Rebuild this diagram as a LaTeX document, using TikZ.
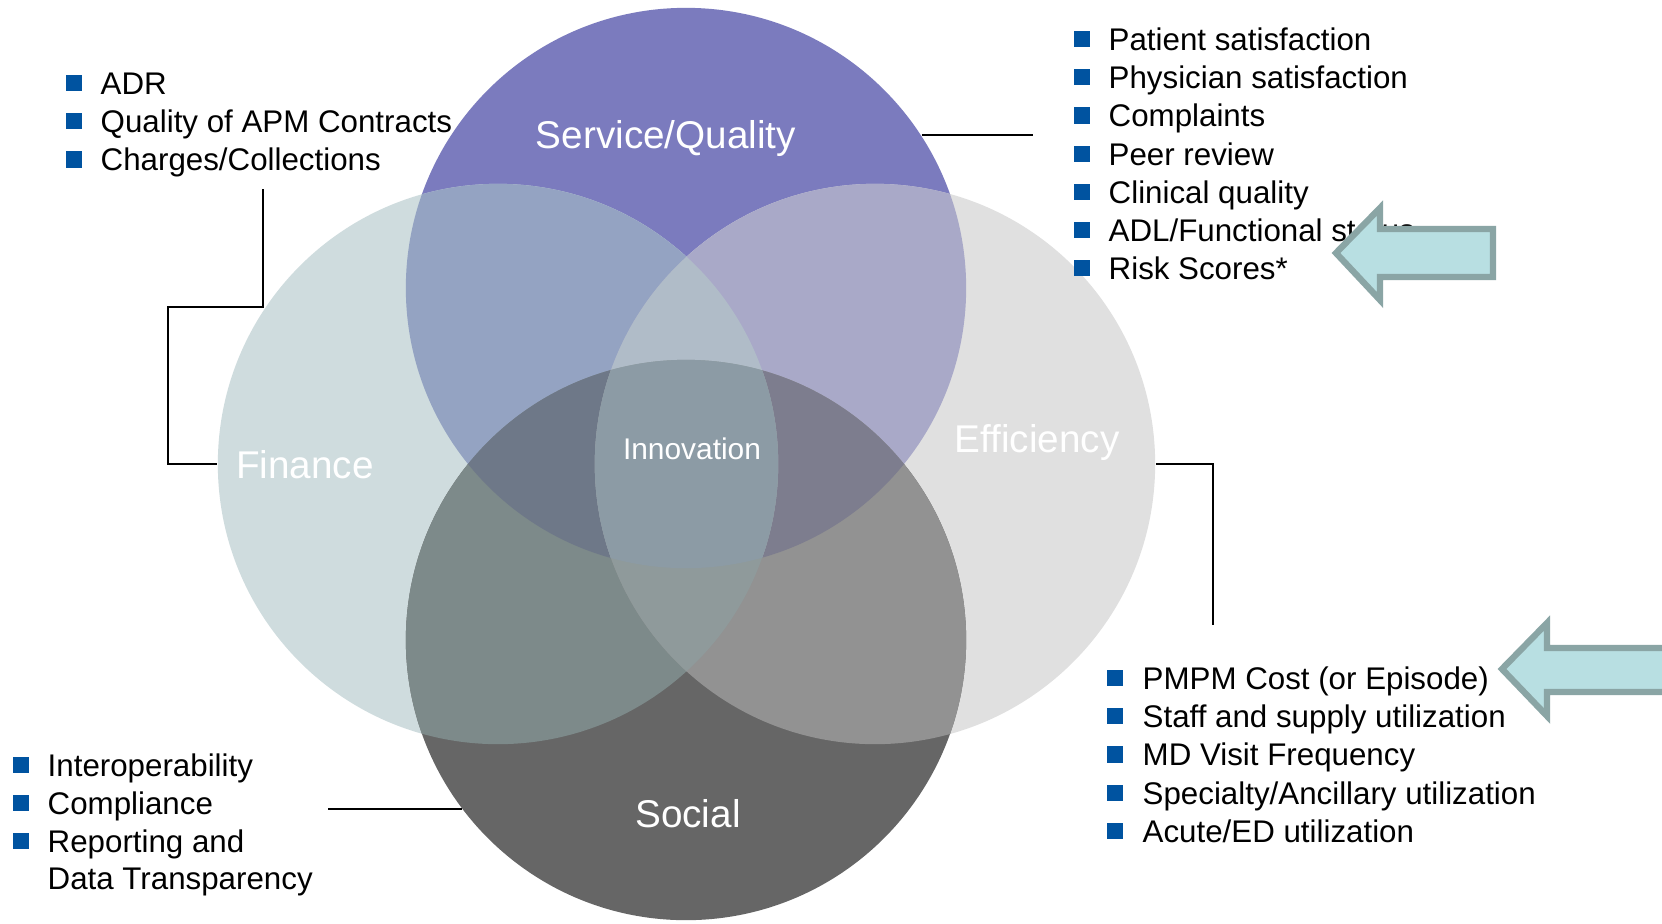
\documentclass[tikz,border=0pt]{standalone}
\usepackage{fontspec}
\setmainfont{Liberation Sans}
\definecolor{sqcol}{HTML}{7B7BBE}
\definecolor{fincol}{HTML}{CFDCDE}
\definecolor{effcol}{HTML}{E0E0E0}
\definecolor{soccol}{HTML}{666666}
\definecolor{sqfin}{HTML}{94A3C2}
\definecolor{sqeff}{HTML}{A9A9C8}
\definecolor{finsoc}{HTML}{7D8A8A}
\definecolor{effsoc}{HTML}{929292}
\definecolor{sqfinsoc}{HTML}{6E7888}
\definecolor{sqeffsoc}{HTML}{7D7D8E}
\definecolor{sqfineff}{HTML}{B0BCC8}
\definecolor{fineffsoc}{HTML}{8F9A9B}
\definecolor{innocol}{HTML}{8C9BA5}
\definecolor{bulblue}{HTML}{0053A0}
\definecolor{arrfill}{HTML}{B8DFE2}
\definecolor{arredge}{HTML}{8AA5A5}
\tikzset{
  venn/.style={circle, minimum size=5.6cm, inner sep=0pt},
  bigtxt/.style={text=white, inner sep=0pt, font=\fontsize{11}{13}\selectfont},
  itemtxt/.style={anchor=west, inner sep=0pt, text height=6.5pt, text depth=0pt,
    font=\fontsize{8.9}{11}\selectfont},
  bul/.style={fill=bulblue, minimum size=4.6pt, inner sep=0pt},
  link/.style={line width=0.6pt},
  blockarrow/.style={fill=arrfill, draw=arredge, line width=1.8pt, line join=miter}
}
\def\rad{2.8cm}
\begin{document}
\begin{tikzpicture}[x=0.01cm, y=-0.01cm]
  \clip (0,0) rectangle (1662,923);
  \fill[white] (0,0) rectangle (1662,923);
  % the four circles
  \node[venn, fill=sqcol] (sq) at (686,288) {};
  \node[venn, fill=fincol] (fin) at (498,464) {};
  \node[venn, fill=effcol] (eff) at (875,464) {};
  \node[venn, fill=soccol] (soc) at (686,640) {};
  % overlaps of two
  \begin{scope}
    \clip (sq.center) circle (\rad);
    \fill[sqfin] (fin.center) circle (\rad);
  \end{scope}
  \begin{scope}
    \clip (sq.center) circle (\rad);
    \fill[sqeff] (eff.center) circle (\rad);
  \end{scope}
  \begin{scope}
    \clip (soc.center) circle (\rad);
    \fill[finsoc] (fin.center) circle (\rad);
  \end{scope}
  \begin{scope}
    \clip (soc.center) circle (\rad);
    \fill[effsoc] (eff.center) circle (\rad);
  \end{scope}
  % overlaps of three
  \begin{scope}
    \clip (sq.center) circle (\rad);
    \clip (fin.center) circle (\rad);
    \fill[sqfinsoc] (soc.center) circle (\rad);
  \end{scope}
  \begin{scope}
    \clip (sq.center) circle (\rad);
    \clip (eff.center) circle (\rad);
    \fill[sqeffsoc] (soc.center) circle (\rad);
  \end{scope}
  \begin{scope}
    \clip (fin.center) circle (\rad);
    \clip (eff.center) circle (\rad);
    \fill[sqfineff] (sq.center) circle (\rad);
  \end{scope}
  \begin{scope}
    \clip (fin.center) circle (\rad);
    \clip (eff.center) circle (\rad);
    \fill[fineffsoc] (soc.center) circle (\rad);
  \end{scope}
  % all four
  \begin{scope}
    \clip (fin.center) circle (\rad);
    \clip (eff.center) circle (\rad);
    \clip (sq.center) circle (\rad);
    \fill[innocol] (soc.center) circle (\rad);
  \end{scope}
  % circle labels
  \node[bigtxt] (sqlbl) at (666,138) {Service/Quality};
  \node[bigtxt] (finlbl) at (305,465) {Finance};
  \node[bigtxt] (efflbl) at (1037,442) {Efficiency};
  \node[bigtxt] (soclbl) at (688,814) {Social};
  \node[bigtxt, font=\fontsize{8.5}{10}\selectfont] (innolbl) at (692,449) {Innovation};
  % lists
  \foreach \t [count=\i] in {Patient satisfaction, Physician satisfaction, Complaints,
      Peer review, Clinical quality, ADL/Functional status, Risk Scores*} {
    \node[bul] (qb\i) at (1082,{39+38.2*(\i-1)}) {};
    \node[itemtxt] (qi\i) at (1108,{39+38.2*(\i-1)}) {\t};
  }
  \foreach \t [count=\i] in {ADR, Quality of APM Contracts, Charges/Collections} {
    \node[bul] (fb\i) at (74,{83+38.2*(\i-1)}) {};
    \node[itemtxt] (fi\i) at (100,{83+38.2*(\i-1)}) {\t};
  }
  \foreach \t [count=\i] in {PMPM Cost (or Episode), Staff and supply utilization,
      MD Visit Frequency, Specialty/Ancillary utilization, Acute/ED utilization} {
    \node[bul] (eb\i) at (1115,{678+38.2*(\i-1)}) {};
    \node[itemtxt] (ei\i) at (1142,{678+38.2*(\i-1)}) {\t};
  }
  \foreach \t [count=\i] in {Interoperability, Compliance, Reporting and} {
    \node[bul] (sb\i) at (21,{765+37.8*(\i-1)}) {};
    \node[itemtxt] (si\i) at (47,{765+37.8*(\i-1)}) {\t};
  }
  \node[itemtxt] (si4) at (47,878) {Data Transparency};
  % connectors
  \coordinate (sqend) at (1033,134);
  \coordinate (fintop) at (263,189);
  \coordinate (finknee) at (168,307);
  \coordinate (effend) at (1213,625);
  \coordinate (socend) at (328,808);
  \draw[link] (sq.33) -- (sq.33 -| sqend);
  \draw[link] (fintop) |- (finknee) |- (fin.west);
  \draw[link] (eff.east) -| (effend);
  \draw[link] (soc.217) -- (soc.217 -| socend);
  % block arrows
  \draw[blockarrow] (1336,253) -- (1380,208) -- (1380,229) -- (1493,229)
    -- (1493,277) -- (1380,277) -- (1380,300) -- cycle;
  \draw[blockarrow] (1502,669) -- (1547,623) -- (1547,648) -- (1690,648)
    -- (1690,692) -- (1547,692) -- (1547,716) -- cycle;
\end{tikzpicture}
\end{document}
